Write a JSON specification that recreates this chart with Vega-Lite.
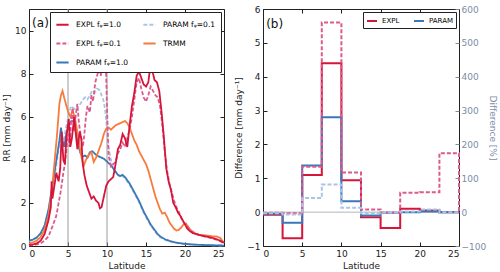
{
  "$schema": "https://vega.github.io/schema/vega-lite/v6.json",
  "padding": {"left": 2, "top": 4, "right": 0, "bottom": 1},
  "spacing": 5,
  "config": {
    "font": "DejaVu Sans",
    "view": {"stroke": "#222", "strokeWidth": 1},
    "axis": {"grid": false, "domain": false, "tickSize": -4, "tickColor": "#222", "labelFontSize": 9, "titleFontSize": 9, "titleFontWeight": "normal", "labelColor": "#222", "titleColor": "#222", "labelPadding": 7, "titlePadding": 3, "labelFont": "DejaVu Sans", "titleFont": "DejaVu Sans"}
  },
  "hconcat": [
    {
      "width": 195,
      "height": 237,
      "layer": [
        {
          "data": {"values": [{"lat": 5}, {"lat": 10}]},
          "mark": {"type": "rule", "color": "#9a9a9a", "strokeWidth": 1},
          "encoding": {"x": {"field": "lat", "type": "quantitative", "scale": {"domain": [0, 25], "nice": false}, "axis": null}}
        },
        {
          "data": {"values": [
            {"s":"P01","lat":0,"rr":0.22},{"s":"P01","lat":0.5,"rr":0.28},{"s":"P01","lat":1,"rr":0.38},{"s":"P01","lat":1.5,"rr":0.55},{"s":"P01","lat":2,"rr":0.9},{"s":"P01","lat":2.5,"rr":1.6},{"s":"P01","lat":3,"rr":2.6},{"s":"P01","lat":3.3,"rr":3.3},{"s":"P01","lat":3.6,"rr":4.0},{"s":"P01","lat":3.9,"rr":4.7},{"s":"P01","lat":4.1,"rr":5.1},{"s":"P01","lat":4.3,"rr":4.9},{"s":"P01","lat":4.5,"rr":5.0},{"s":"P01","lat":4.8,"rr":5.6},{"s":"P01","lat":5.1,"rr":6.1},{"s":"P01","lat":5.4,"rr":6.5},{"s":"P01","lat":5.7,"rr":6.4},{"s":"P01","lat":6.0,"rr":6.3},{"s":"P01","lat":6.3,"rr":6.5},{"s":"P01","lat":6.6,"rr":6.6},{"s":"P01","lat":6.9,"rr":6.8},{"s":"P01","lat":7.2,"rr":6.9},{"s":"P01","lat":7.5,"rr":6.8},{"s":"P01","lat":7.8,"rr":7.0},{"s":"P01","lat":8.1,"rr":7.2},{"s":"P01","lat":8.4,"rr":7.1},{"s":"P01","lat":8.7,"rr":7.3},{"s":"P01","lat":9.0,"rr":7.25},{"s":"P01","lat":9.3,"rr":7.0},{"s":"P01","lat":9.6,"rr":6.7},{"s":"P01","lat":9.8,"rr":6.2},{"s":"P01","lat":10.0,"rr":5.4},{"s":"P01","lat":10.2,"rr":4.6},{"s":"P01","lat":10.5,"rr":4.0},{"s":"P01","lat":10.8,"rr":3.6},{"s":"P01","lat":11.1,"rr":3.45},{"s":"P01","lat":11.4,"rr":3.3},{"s":"P01","lat":11.7,"rr":3.2},{"s":"P01","lat":12.0,"rr":3.25},{"s":"P01","lat":12.3,"rr":3.15},{"s":"P01","lat":12.6,"rr":3.0},{"s":"P01","lat":12.9,"rr":2.85},{"s":"P01","lat":13.2,"rr":2.65},{"s":"P01","lat":13.5,"rr":2.45},{"s":"P01","lat":13.8,"rr":2.25},{"s":"P01","lat":14.1,"rr":2.05},{"s":"P01","lat":14.4,"rr":1.8},{"s":"P01","lat":14.7,"rr":1.55},{"s":"P01","lat":15.0,"rr":1.35},{"s":"P01","lat":15.3,"rr":1.15},{"s":"P01","lat":15.6,"rr":0.95},{"s":"P01","lat":15.9,"rr":0.8},{"s":"P01","lat":16.2,"rr":0.65},{"s":"P01","lat":16.5,"rr":0.5},{"s":"P01","lat":16.8,"rr":0.42},{"s":"P01","lat":17.1,"rr":0.35},{"s":"P01","lat":17.5,"rr":0.28},{"s":"P01","lat":18.0,"rr":0.22},{"s":"P01","lat":18.5,"rr":0.17},{"s":"P01","lat":19.0,"rr":0.13},{"s":"P01","lat":19.5,"rr":0.11},{"s":"P01","lat":20.0,"rr":0.09},{"s":"P01","lat":21.0,"rr":0.06},{"s":"P01","lat":22.0,"rr":0.05},{"s":"P01","lat":23.0,"rr":0.04},{"s":"P01","lat":24.0,"rr":0.03},{"s":"P01","lat":25,"rr":0.02},
            {"s":"P1","lat":0,"rr":0.25},{"s":"P1","lat":0.5,"rr":0.3},{"s":"P1","lat":1,"rr":0.4},{"s":"P1","lat":1.5,"rr":0.6},{"s":"P1","lat":2,"rr":0.95},{"s":"P1","lat":2.5,"rr":1.7},{"s":"P1","lat":3,"rr":2.8},{"s":"P1","lat":3.3,"rr":3.5},{"s":"P1","lat":3.6,"rr":4.2},{"s":"P1","lat":3.9,"rr":4.9},{"s":"P1","lat":4.1,"rr":5.5},{"s":"P1","lat":4.3,"rr":4.9},{"s":"P1","lat":4.5,"rr":4.6},{"s":"P1","lat":4.8,"rr":5.2},{"s":"P1","lat":5.1,"rr":5.6},{"s":"P1","lat":5.4,"rr":5.8},{"s":"P1","lat":5.7,"rr":5.8},{"s":"P1","lat":6.0,"rr":5.3},{"s":"P1","lat":6.3,"rr":4.7},{"s":"P1","lat":6.6,"rr":4.3},{"s":"P1","lat":6.9,"rr":4.15},{"s":"P1","lat":7.2,"rr":4.2},{"s":"P1","lat":7.5,"rr":4.1},{"s":"P1","lat":7.8,"rr":4.35},{"s":"P1","lat":8.1,"rr":4.4},{"s":"P1","lat":8.4,"rr":4.3},{"s":"P1","lat":8.7,"rr":4.2},{"s":"P1","lat":9.0,"rr":4.15},{"s":"P1","lat":9.3,"rr":4.1},{"s":"P1","lat":9.6,"rr":4.05},{"s":"P1","lat":9.9,"rr":3.95},{"s":"P1","lat":10.2,"rr":3.85},{"s":"P1","lat":10.5,"rr":3.75},{"s":"P1","lat":10.8,"rr":3.6},{"s":"P1","lat":11.1,"rr":3.45},{"s":"P1","lat":11.4,"rr":3.3},{"s":"P1","lat":11.7,"rr":3.25},{"s":"P1","lat":12.0,"rr":3.3},{"s":"P1","lat":12.3,"rr":3.2},{"s":"P1","lat":12.6,"rr":3.05},{"s":"P1","lat":12.9,"rr":2.9},{"s":"P1","lat":13.2,"rr":2.7},{"s":"P1","lat":13.5,"rr":2.5},{"s":"P1","lat":13.8,"rr":2.3},{"s":"P1","lat":14.1,"rr":2.1},{"s":"P1","lat":14.4,"rr":1.85},{"s":"P1","lat":14.7,"rr":1.6},{"s":"P1","lat":15.0,"rr":1.4},{"s":"P1","lat":15.3,"rr":1.2},{"s":"P1","lat":15.6,"rr":1.0},{"s":"P1","lat":15.9,"rr":0.85},{"s":"P1","lat":16.2,"rr":0.7},{"s":"P1","lat":16.5,"rr":0.55},{"s":"P1","lat":16.8,"rr":0.45},{"s":"P1","lat":17.1,"rr":0.38},{"s":"P1","lat":17.5,"rr":0.3},{"s":"P1","lat":18.0,"rr":0.24},{"s":"P1","lat":18.5,"rr":0.19},{"s":"P1","lat":19.0,"rr":0.15},{"s":"P1","lat":19.5,"rr":0.12},{"s":"P1","lat":20.0,"rr":0.1},{"s":"P1","lat":21.0,"rr":0.07},{"s":"P1","lat":22.0,"rr":0.05},{"s":"P1","lat":23.0,"rr":0.04},{"s":"P1","lat":24.0,"rr":0.03},{"s":"P1","lat":25,"rr":0.02},
            {"s":"T","lat":0,"rr":0.12},{"s":"T","lat":0.5,"rr":0.17},{"s":"T","lat":1,"rr":0.25},{"s":"T","lat":1.5,"rr":0.42},{"s":"T","lat":2,"rr":0.75},{"s":"T","lat":2.5,"rr":1.4},{"s":"T","lat":3.0,"rr":2.8},{"s":"T","lat":3.3,"rr":4.0},{"s":"T","lat":3.6,"rr":5.2},{"s":"T","lat":3.9,"rr":6.6},{"s":"T","lat":4.1,"rr":7.0},{"s":"T","lat":4.3,"rr":7.2},{"s":"T","lat":4.5,"rr":6.9},{"s":"T","lat":4.8,"rr":6.5},{"s":"T","lat":5.1,"rr":6.15},{"s":"T","lat":5.3,"rr":6.0},{"s":"T","lat":5.6,"rr":6.3},{"s":"T","lat":5.9,"rr":5.9},{"s":"T","lat":6.2,"rr":5.3},{"s":"T","lat":6.5,"rr":4.6},{"s":"T","lat":6.8,"rr":4.0},{"s":"T","lat":7.0,"rr":3.7},{"s":"T","lat":7.3,"rr":4.0},{"s":"T","lat":7.6,"rr":4.2},{"s":"T","lat":8.0,"rr":4.35},{"s":"T","lat":8.3,"rr":3.9},{"s":"T","lat":8.6,"rr":4.1},{"s":"T","lat":9.0,"rr":4.5},{"s":"T","lat":9.3,"rr":4.8},{"s":"T","lat":9.6,"rr":5.2},{"s":"T","lat":9.9,"rr":5.45},{"s":"T","lat":10.2,"rr":5.5},{"s":"T","lat":10.5,"rr":5.4},{"s":"T","lat":10.8,"rr":5.5},{"s":"T","lat":11.1,"rr":5.6},{"s":"T","lat":11.4,"rr":5.65},{"s":"T","lat":11.7,"rr":5.7},{"s":"T","lat":12.0,"rr":5.75},{"s":"T","lat":12.3,"rr":5.8},{"s":"T","lat":12.6,"rr":5.7},{"s":"T","lat":12.9,"rr":5.5},{"s":"T","lat":13.2,"rr":5.2},{"s":"T","lat":13.5,"rr":4.9},{"s":"T","lat":13.8,"rr":4.7},{"s":"T","lat":14.1,"rr":4.4},{"s":"T","lat":14.4,"rr":4.2},{"s":"T","lat":14.7,"rr":4.0},{"s":"T","lat":15.0,"rr":3.8},{"s":"T","lat":15.3,"rr":3.5},{"s":"T","lat":15.6,"rr":3.1},{"s":"T","lat":15.9,"rr":2.7},{"s":"T","lat":16.2,"rr":2.3},{"s":"T","lat":16.5,"rr":2.0},{"s":"T","lat":16.8,"rr":1.7},{"s":"T","lat":17.1,"rr":1.5},{"s":"T","lat":17.4,"rr":1.55},{"s":"T","lat":17.7,"rr":1.35},{"s":"T","lat":18.0,"rr":1.1},{"s":"T","lat":18.3,"rr":0.95},{"s":"T","lat":18.6,"rr":0.8},{"s":"T","lat":18.9,"rr":0.72},{"s":"T","lat":19.2,"rr":0.75},{"s":"T","lat":19.5,"rr":0.85},{"s":"T","lat":19.8,"rr":1.0},{"s":"T","lat":20.1,"rr":1.05},{"s":"T","lat":20.4,"rr":0.9},{"s":"T","lat":20.7,"rr":0.75},{"s":"T","lat":21.0,"rr":0.65},{"s":"T","lat":21.5,"rr":0.55},{"s":"T","lat":22.0,"rr":0.5},{"s":"T","lat":22.5,"rr":0.5},{"s":"T","lat":23.0,"rr":0.48},{"s":"T","lat":23.5,"rr":0.45},{"s":"T","lat":24.0,"rr":0.45},{"s":"T","lat":24.5,"rr":0.38},{"s":"T","lat":25,"rr":0.15},
            {"s":"E01","lat":0,"rr":0.03},{"s":"E01","lat":0.5,"rr":0.04},{"s":"E01","lat":1,"rr":0.07},{"s":"E01","lat":1.5,"rr":0.12},{"s":"E01","lat":2,"rr":0.25},{"s":"E01","lat":2.5,"rr":0.45},{"s":"E01","lat":3.0,"rr":0.9},{"s":"E01","lat":3.5,"rr":1.4},{"s":"E01","lat":3.8,"rr":2.0},{"s":"E01","lat":4.1,"rr":2.6},{"s":"E01","lat":4.4,"rr":3.4},{"s":"E01","lat":4.6,"rr":3.8},{"s":"E01","lat":4.8,"rr":4.5},{"s":"E01","lat":5.0,"rr":5.2},{"s":"E01","lat":5.2,"rr":4.6},{"s":"E01","lat":5.4,"rr":5.8},{"s":"E01","lat":5.6,"rr":6.4},{"s":"E01","lat":5.8,"rr":5.3},{"s":"E01","lat":6.0,"rr":6.1},{"s":"E01","lat":6.2,"rr":6.6},{"s":"E01","lat":6.4,"rr":5.7},{"s":"E01","lat":6.6,"rr":5.2},{"s":"E01","lat":6.9,"rr":4.6},{"s":"E01","lat":7.1,"rr":5.2},{"s":"E01","lat":7.3,"rr":6.0},{"s":"E01","lat":7.5,"rr":6.5},{"s":"E01","lat":7.8,"rr":6.2},{"s":"E01","lat":8.0,"rr":7.0},{"s":"E01","lat":8.2,"rr":6.7},{"s":"E01","lat":8.5,"rr":7.6},{"s":"E01","lat":8.8,"rr":8.0},{"s":"E01","lat":9.0,"rr":8.3},{"s":"E01","lat":9.2,"rr":7.9},{"s":"E01","lat":9.4,"rr":8.6},{"s":"E01","lat":9.6,"rr":9.0},{"s":"E01","lat":9.8,"rr":9.2},{"s":"E01","lat":10.0,"rr":6.4},{"s":"E01","lat":10.2,"rr":4.2},{"s":"E01","lat":10.5,"rr":3.7},{"s":"E01","lat":10.8,"rr":3.8},{"s":"E01","lat":11.1,"rr":3.9},{"s":"E01","lat":11.4,"rr":4.3},{"s":"E01","lat":11.7,"rr":4.5},{"s":"E01","lat":12.0,"rr":4.8},{"s":"E01","lat":12.3,"rr":4.6},{"s":"E01","lat":12.6,"rr":5.0},{"s":"E01","lat":12.9,"rr":5.4},{"s":"E01","lat":13.2,"rr":6.0},{"s":"E01","lat":13.5,"rr":6.8},{"s":"E01","lat":13.8,"rr":7.6},{"s":"E01","lat":14.1,"rr":7.8},{"s":"E01","lat":14.4,"rr":7.3},{"s":"E01","lat":14.7,"rr":6.9},{"s":"E01","lat":15.0,"rr":6.7},{"s":"E01","lat":15.3,"rr":7.0},{"s":"E01","lat":15.6,"rr":7.4},{"s":"E01","lat":15.9,"rr":7.2},{"s":"E01","lat":16.2,"rr":7.0},{"s":"E01","lat":16.5,"rr":6.9},{"s":"E01","lat":16.8,"rr":6.5},{"s":"E01","lat":17.1,"rr":5.6},{"s":"E01","lat":17.4,"rr":4.4},{"s":"E01","lat":17.7,"rr":3.5},{"s":"E01","lat":18.0,"rr":2.9},{"s":"E01","lat":18.3,"rr":2.5},{"s":"E01","lat":18.6,"rr":2.1},{"s":"E01","lat":18.9,"rr":1.8},{"s":"E01","lat":19.2,"rr":1.6},{"s":"E01","lat":19.5,"rr":1.3},{"s":"E01","lat":19.8,"rr":1.1},{"s":"E01","lat":20.1,"rr":1.0},{"s":"E01","lat":20.5,"rr":0.8},{"s":"E01","lat":21.0,"rr":0.65},{"s":"E01","lat":21.5,"rr":0.55},{"s":"E01","lat":22.0,"rr":0.5},{"s":"E01","lat":22.5,"rr":0.45},{"s":"E01","lat":23.0,"rr":0.4},{"s":"E01","lat":23.5,"rr":0.35},{"s":"E01","lat":24.0,"rr":0.3},{"s":"E01","lat":24.5,"rr":0.22},{"s":"E01","lat":25,"rr":0.12},
            {"s":"E1","lat":0,"rr":0.05},{"s":"E1","lat":0.5,"rr":0.07},{"s":"E1","lat":1,"rr":0.12},{"s":"E1","lat":1.5,"rr":0.25},{"s":"E1","lat":2,"rr":0.55},{"s":"E1","lat":2.5,"rr":1.2},{"s":"E1","lat":2.8,"rr":1.8},{"s":"E1","lat":2.9,"rr":3.0},{"s":"E1","lat":3.0,"rr":2.2},{"s":"E1","lat":3.3,"rr":2.9},{"s":"E1","lat":3.5,"rr":3.4},{"s":"E1","lat":3.8,"rr":3.0},{"s":"E1","lat":4.0,"rr":3.6},{"s":"E1","lat":4.2,"rr":5.3},{"s":"E1","lat":4.4,"rr":4.0},{"s":"E1","lat":4.6,"rr":3.8},{"s":"E1","lat":4.8,"rr":5.1},{"s":"E1","lat":5.1,"rr":5.9},{"s":"E1","lat":5.3,"rr":4.6},{"s":"E1","lat":5.5,"rr":5.0},{"s":"E1","lat":5.8,"rr":6.0},{"s":"E1","lat":6.0,"rr":5.2},{"s":"E1","lat":6.2,"rr":4.5},{"s":"E1","lat":6.5,"rr":5.3},{"s":"E1","lat":6.7,"rr":5.0},{"s":"E1","lat":6.9,"rr":3.8},{"s":"E1","lat":7.1,"rr":3.3},{"s":"E1","lat":7.4,"rr":2.8},{"s":"E1","lat":7.7,"rr":2.5},{"s":"E1","lat":8.0,"rr":2.2},{"s":"E1","lat":8.3,"rr":2.3},{"s":"E1","lat":8.6,"rr":2.1},{"s":"E1","lat":8.9,"rr":2.0},{"s":"E1","lat":9.1,"rr":1.75},{"s":"E1","lat":9.3,"rr":1.8},{"s":"E1","lat":9.6,"rr":2.3},{"s":"E1","lat":9.9,"rr":2.8},{"s":"E1","lat":10.2,"rr":3.0},{"s":"E1","lat":10.5,"rr":3.1},{"s":"E1","lat":10.8,"rr":3.2},{"s":"E1","lat":11.1,"rr":3.8},{"s":"E1","lat":11.4,"rr":4.5},{"s":"E1","lat":11.7,"rr":4.7},{"s":"E1","lat":12.0,"rr":5.2},{"s":"E1","lat":12.3,"rr":5.0},{"s":"E1","lat":12.6,"rr":4.6},{"s":"E1","lat":12.9,"rr":5.6},{"s":"E1","lat":13.2,"rr":6.5},{"s":"E1","lat":13.5,"rr":7.1},{"s":"E1","lat":13.8,"rr":7.9},{"s":"E1","lat":14.1,"rr":8.1},{"s":"E1","lat":14.4,"rr":7.8},{"s":"E1","lat":14.7,"rr":7.5},{"s":"E1","lat":15.0,"rr":7.4},{"s":"E1","lat":15.3,"rr":7.6},{"s":"E1","lat":15.5,"rr":8.2},{"s":"E1","lat":15.7,"rr":8.6},{"s":"E1","lat":15.9,"rr":8.0},{"s":"E1","lat":16.1,"rr":7.7},{"s":"E1","lat":16.4,"rr":7.6},{"s":"E1","lat":16.7,"rr":7.2},{"s":"E1","lat":17.0,"rr":6.2},{"s":"E1","lat":17.3,"rr":5.0},{"s":"E1","lat":17.6,"rr":3.6},{"s":"E1","lat":17.9,"rr":3.0},{"s":"E1","lat":18.2,"rr":2.6},{"s":"E1","lat":18.5,"rr":2.0},{"s":"E1","lat":18.8,"rr":1.8},{"s":"E1","lat":19.1,"rr":1.55},{"s":"E1","lat":19.4,"rr":1.4},{"s":"E1","lat":19.7,"rr":1.2},{"s":"E1","lat":20.0,"rr":1.0},{"s":"E1","lat":20.3,"rr":0.8},{"s":"E1","lat":20.6,"rr":0.7},{"s":"E1","lat":21.0,"rr":0.6},{"s":"E1","lat":21.5,"rr":0.55},{"s":"E1","lat":22.0,"rr":0.5},{"s":"E1","lat":22.5,"rr":0.45},{"s":"E1","lat":23.0,"rr":0.42},{"s":"E1","lat":23.5,"rr":0.38},{"s":"E1","lat":24.0,"rr":0.32},{"s":"E1","lat":24.5,"rr":0.25},{"s":"E1","lat":25,"rr":0.15}
          ]},
          "mark": {"type": "line", "strokeWidth": 1.8},
          "encoding": {
            "x": {"field": "lat", "type": "quantitative", "scale": {"domain": [0, 25], "nice": false}, "axis": {"title": "Latitude", "values": [0, 5, 10, 15, 20, 25]}},
            "y": {"field": "rr", "type": "quantitative", "scale": {"domain": [0, 11], "nice": false}, "axis": {"title": "RR [mm day⁻¹]", "values": [0, 2, 4, 6, 8, 10]}},
            "color": {"field": "s", "type": "nominal", "scale": {"domain": ["E1", "E01", "P1", "P01", "T"], "range": ["#d7153a", "#dc5a8c", "#3a78b8", "#a9c4e4", "#f97a3d"]},
              "legend": {"title": null, "orient": "top-right", "offset": 3, "columns": 2, "strokeColor": "#222", "fillColor": "white", "padding": 5, "symbolType": "stroke", "symbolSize": 150, "symbolStrokeWidth": 2, "labelFontSize": 7.5, "labelOffset": 6, "rowPadding": 7, "columnPadding": 10, "labelExpr": "datum.label == 'E1' ? 'EXPL fᵩ=1.0' : datum.label == 'E01' ? 'EXPL fᵩ=0.1' : datum.label == 'P1' ? 'PARAM fᵩ=1.0' : datum.label == 'P01' ? 'PARAM fᵩ=0.1' : 'TRMM'"}},
            "strokeDash": {"field": "s", "type": "nominal", "scale": {"domain": ["E1", "E01", "P1", "P01", "T"], "range": [[1, 0], [4, 2], [1, 0], [4, 2], [1, 0]]}, "legend": null}
          }
        },
        {
          "data": {"values": [{}]},
          "mark": {"type": "text", "text": "(a)", "fontSize": 12, "align": "left", "baseline": "middle", "color": "#111"},
          "encoding": {
            "x": {"datum": 0.4, "type": "quantitative", "axis": {"orient": "top", "labels": false, "title": null, "values": [0, 5, 10, 15, 20, 25]}},
            "y": {"datum": 10.35, "type": "quantitative", "axis": {"orient": "right", "labels": false, "title": null, "values": [0, 2, 4, 6, 8, 10]}}
          }
        }
      ],
      "resolve": {"axis": {"x": "independent", "y": "independent"}}
    },
    {
      "width": 196,
      "height": 237,
      "layer": [
        {
          "layer": [
            {
              "data": {"values": [{}]},
              "mark": {"type": "rule", "color": "#b5b5b5", "strokeWidth": 1},
              "encoding": {"y": {"datum": 0, "type": "quantitative", "scale": {"domain": [-1, 6], "nice": false}, "axis": {"title": "Difference [mm day⁻¹]", "values": [-1, 0, 1, 2, 3, 4, 5, 6]}}}
            },
            {
              "data": {"values": [
                {"m":"EXPL","lat":0,"mm":-0.08},{"m":"EXPL","lat":2.5,"mm":-0.77},{"m":"EXPL","lat":5,"mm":1.1},{"m":"EXPL","lat":7.5,"mm":4.4},{"m":"EXPL","lat":10,"mm":0.94},{"m":"EXPL","lat":12.5,"mm":-0.15},{"m":"EXPL","lat":15,"mm":-0.47},{"m":"EXPL","lat":17.5,"mm":0.1},{"m":"EXPL","lat":20,"mm":0.05},{"m":"EXPL","lat":22.5,"mm":0.0},{"m":"EXPL","lat":25,"mm":0},
                {"m":"PARAM","lat":0,"mm":-0.05},{"m":"PARAM","lat":2.5,"mm":-0.31},{"m":"PARAM","lat":5,"mm":1.38},{"m":"PARAM","lat":7.5,"mm":2.8},{"m":"PARAM","lat":10,"mm":0.32},{"m":"PARAM","lat":12.5,"mm":-0.1},{"m":"PARAM","lat":15,"mm":-0.02},{"m":"PARAM","lat":17.5,"mm":0.0},{"m":"PARAM","lat":20,"mm":0.02},{"m":"PARAM","lat":22.5,"mm":0.0},{"m":"PARAM","lat":25,"mm":0}
              ]},
              "mark": {"type": "line", "interpolate": "step-after", "strokeWidth": 2},
              "encoding": {
                "x": {"field": "lat", "type": "quantitative", "scale": {"domain": [0, 25], "nice": false}, "axis": {"title": "Latitude", "values": [0, 5, 10, 15, 20, 25]}},
                "y": {"field": "mm", "type": "quantitative", "scale": {"domain": [-1, 6], "nice": false}, "axis": {"title": "Difference [mm day⁻¹]", "values": [-1, 0, 1, 2, 3, 4, 5, 6]}},
                "color": {"field": "m", "type": "nominal", "scale": {"domain": ["EXPL", "PARAM"], "range": ["#d7153a", "#3a78b8"]},
                  "legend": {"title": null, "orient": "top-right", "offset": 3, "direction": "horizontal", "columns": 2, "strokeColor": "#222", "fillColor": "white", "padding": 3, "symbolType": "stroke", "symbolSize": 100, "symbolStrokeWidth": 2, "labelFontSize": 7, "columnPadding": 10}}
              }
            },
            {
              "data": {"values": [{}]},
              "mark": {"type": "text", "text": "(b)", "fontSize": 12, "align": "left", "baseline": "middle", "color": "#111"},
              "encoding": {
                "x": {"datum": 0.4, "type": "quantitative", "axis": {"orient": "top", "labels": false, "title": null, "values": [0, 5, 10, 15, 20, 25]}},
                "y": {"datum": 5.55, "type": "quantitative", "axis": {"title": "Difference [mm day⁻¹]", "values": [-1, 0, 1, 2, 3, 4, 5, 6]}}
              }
            }
          ],
          "resolve": {"axis": {"x": "independent"}}
        },
        {
          "data": {"values": [
            {"m":"EXPL","lat":0,"pct":-2},{"m":"EXPL","lat":2.5,"pct":-3},{"m":"EXPL","lat":5,"pct":134},{"m":"EXPL","lat":7.5,"pct":560},{"m":"EXPL","lat":10,"pct":117},{"m":"EXPL","lat":12.5,"pct":8},{"m":"EXPL","lat":15,"pct":-1},{"m":"EXPL","lat":17.5,"pct":57},{"m":"EXPL","lat":20,"pct":59},{"m":"EXPL","lat":22.5,"pct":174},{"m":"EXPL","lat":25,"pct":0},
            {"m":"PARAM","lat":0,"pct":-3},{"m":"PARAM","lat":2.5,"pct":-7},{"m":"PARAM","lat":5,"pct":42},{"m":"PARAM","lat":7.5,"pct":82},{"m":"PARAM","lat":10,"pct":13},{"m":"PARAM","lat":12.5,"pct":-3},{"m":"PARAM","lat":15,"pct":-1},{"m":"PARAM","lat":17.5,"pct":2},{"m":"PARAM","lat":20,"pct":8},{"m":"PARAM","lat":22.5,"pct":0},{"m":"PARAM","lat":25,"pct":0}
          ]},
          "mark": {"type": "line", "interpolate": "step-after", "strokeWidth": 2, "strokeDash": [4, 2]},
          "encoding": {
            "x": {"field": "lat", "type": "quantitative", "axis": null},
            "y": {"field": "pct", "type": "quantitative", "scale": {"domain": [-100, 600], "nice": false}, "axis": {"orient": "right", "title": "Difference [%]", "values": [-100, 0, 100, 200, 300, 400, 500, 600], "labelColor": "#7d8ca6", "titleColor": "#7d8ca6", "tickColor": "#7d8ca6", "labelPadding": 6, "titlePadding": 2}},
            "color": {"field": "m", "type": "nominal", "scale": {"domain": ["EXPL", "PARAM"], "range": ["#dc5a8c", "#a9c4e4"]}, "legend": null}
          }
        }
      ],
      "resolve": {"scale": {"y": "independent", "color": "independent"}}
    }
  ],
  "resolve": {"scale": {"color": "independent", "strokeDash": "independent"}, "legend": {"color": "independent"}}
}
